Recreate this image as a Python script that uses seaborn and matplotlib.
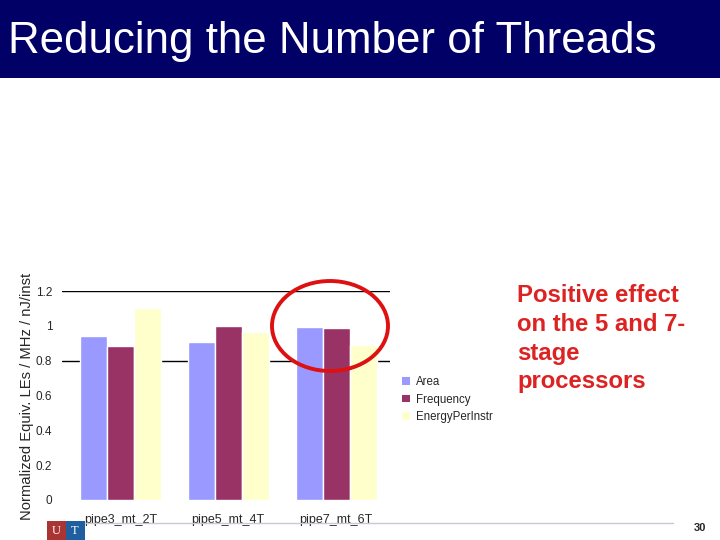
import pandas as pd
import matplotlib.pyplot as plt
import seaborn as sns
from matplotlib.patches import Ellipse, Rectangle

# Data
configs = ["pipe3_mt_2T", "pipe5_mt_4T", "pipe7_mt_6T"]
area = [0.94, 0.91, 0.995]
frequency = [0.885, 1.0, 0.99]
energy = [1.10, 0.965, 0.89]
series = ["Area", "Frequency", "EnergyPerInstr"]
colors = ["#9999FF", "#993366", "#FFFFCC"]
yticks = [0, 0.2, 0.4, 0.6, 0.8, 1, 1.2]

df = pd.DataFrame({
    "config": configs * 3,
    "metric": [series[0]] * 3 + [series[1]] * 3 + [series[2]] * 3,
    "value": area + frequency + energy,
})

sns.set_style("white")
plt.rcParams["font.family"] = ["Liberation Sans", "DejaVu Sans"]

fig = plt.figure(figsize=(7.2, 5.4), dpi=100)

# Title bar
fig.patches.append(Rectangle((0, 1 - 78 / 540), 1, 78 / 540, transform=fig.transFigure,
                             facecolor="#000066", edgecolor="none", zorder=0))
fig.text(8 / 720, 1 - 41 / 540, "Reducing the Number of Threads", color="white",
         fontsize=31.6, va="center", ha="left")

ax = fig.add_axes([62 / 720, 1 - 500 / 540, 328 / 720, 209 / 540])
sns.barplot(data=df, x="config", y="value", hue="metric", palette=colors,
            width=0.75, saturation=1, ax=ax, legend=False)
ax.set_xlim(-0.54, 2.5)
ax.set_ylim(0, 1.2)
ax.set_yticks(yticks)
ax.set_yticklabels(["0", "0.2", "0.4", "0.6", "0.8", "1", "1.2"], fontsize=8.5)
for y in [0.8, 1.2]:
    ax.axhline(y, color="black", lw=1, zorder=0)
ax.tick_params(axis="x", labelsize=9, length=0, pad=10)
ax.tick_params(axis="y", length=0, pad=7)
for s in ax.spines.values():
    s.set_visible(False)
ax.set_xlabel("")
ax.set_ylabel("")

fig.text(27 / 720, 1 - 396 / 540, "Normalized Equiv. LEs / MHz / nJ/inst", rotation=90,
         fontsize=10.6, va="center", ha="center")

# Legend
handles = [Rectangle((0, 0), 1, 1, facecolor=c, edgecolor="none") for c in colors]
fig.legend(handles, series, loc="upper left", bbox_to_anchor=(392 / 720, 1 - 366 / 540),
           frameon=False, fontsize=8.3, handlelength=0.65, handleheight=0.65,
           handletextpad=0.5, labelspacing=0.45)

# Highlight ellipse
fig.patches.append(Ellipse((330 / 720, 1 - 326 / 540), 116 / 720, 90 / 540,
                           transform=fig.transFigure, fill=False, edgecolor="#DD1111",
                           lw=2.8, zorder=10))

fig.text(517 / 720, 1 - 284 / 540, "Positive effect\non the 5 and 7-\nstage\nprocessors",
         color="#DD2222", fontsize=17.2, fontweight="bold", va="top", ha="left",
         linespacing=1.32)

# Footer
fig.lines.append(plt.Line2D([85 / 720, 673 / 720], [1 - 523 / 540] * 2,
                            transform=fig.transFigure, color="#C8C8D8", lw=1))
fig.text(700 / 720, 1 - 528 / 540, "30", fontsize=8, fontweight="bold", ha="center", va="center")
fig.patches.append(Rectangle((47 / 720, 0), 19 / 720, 19 / 540, transform=fig.transFigure,
                             facecolor="#AA3333", edgecolor="none"))
fig.patches.append(Rectangle((66 / 720, 0), 19 / 720, 19 / 540, transform=fig.transFigure,
                             facecolor="#1F5FA0", edgecolor="none"))
fig.text(56 / 720, 9 / 540, "U", color="white", fontsize=9, ha="center", va="center",
         family="Liberation Serif")
fig.text(75 / 720, 9 / 540, "T", color="white", fontsize=9, ha="center", va="center",
         family="Liberation Serif")

fig.savefig("out.png", dpi=100)
